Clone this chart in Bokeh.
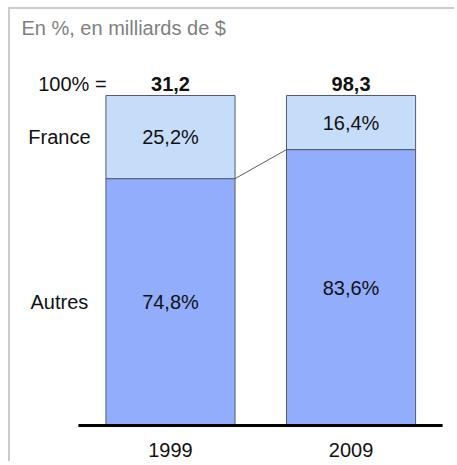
from bokeh.plotting import figure
from bokeh.models import ColumnDataSource, Range1d
from bokeh.core.properties import value
from bokeh.embed import file_html
from bokeh.resources import INLINE

# ---- data ----
years = ["1999", "2009"]
totals = ["31,2", "98,3"]
autres = [74.8, 83.6]
france = [25.2, 16.4]
autres_labels = ["74,8%", "83,6%"]
france_labels = ["25,2%", "16,4%"]
series_names = ["France", "Autres"]
subtitle = "En %, en milliards de $"
total_prefix = "100% ="

FONT = value("Liberation Sans")
W, H = 446, 454

xs = list(range(len(years)))
bar_w = 0.715

p = figure(width=W, height=H, output_backend="svg", toolbar_location=None,
           x_range=Range1d(-0.886, 1.584), y_range=Range1d(-11.52, 126.06),
           min_border=0, tools="")
p.axis.visible = False
p.grid.visible = False
p.outline_line_color = None
p.background_fill_color = "white"
p.border_fill_color = "white"
p.styles = {"border-left": "2px solid #cccccc", "border-top": "2px solid #cccccc",
            "margin-left": "8px", "margin-top": "7px"}

src = ColumnDataSource(dict(x=xs, autres=autres, france=france,
                            total=[a + f for a, f in zip(autres, france)],
                            amid=[a / 2 for a in autres],
                            fmid=[a + f / 2 for a, f in zip(autres, france)],
                            alab=autres_labels, flab=france_labels,
                            years=years, totals=totals))

p.vbar(x="x", bottom=0, top="autres", width=bar_w, source=src,
       fill_color="#93adfd", line_color="#505a70", line_width=1)
p.vbar(x="x", bottom="autres", top="total", width=bar_w, source=src,
       fill_color="#c6ddf9", line_color="#505a70", line_width=1)

# connector between Autres tops
p.line(x=[xs[0] + bar_w / 2, xs[1] - bar_w / 2], y=autres,
       line_color="#333333", line_width=0.8)

# baseline
p.line(x=[-0.51, 1.507], y=[0, 0], line_color="black", line_width=3)

common = dict(text_font=FONT, text_font_size="20px", text_align="center",
              text_baseline="middle", text_color="#111111")
p.text(x="x", y="amid", text="alab", source=src, **common)
p.text(x="x", y="fmid", text="flab", source=src, **common)
p.text(x="x", y=-7.58, text="years", source=src, **common)
p.text(x="x", y=103.6, text="totals", source=src,
       text_font_style="bold", **common)

p.text(x=[-0.543], y=[103.6], text=[total_prefix], **common)
p.text(x=[-0.615, -0.615], y=[autres[0] + france[0] / 2, autres[0] / 2],
       text=series_names, **common)

p.text(x=[-0.8255], y=[120.6], text=[subtitle], text_font=FONT,
       text_font_size="20px", text_align="left", text_baseline="middle",
       text_color="#808080")

open("out.html", "w").write(file_html(p, INLINE))
